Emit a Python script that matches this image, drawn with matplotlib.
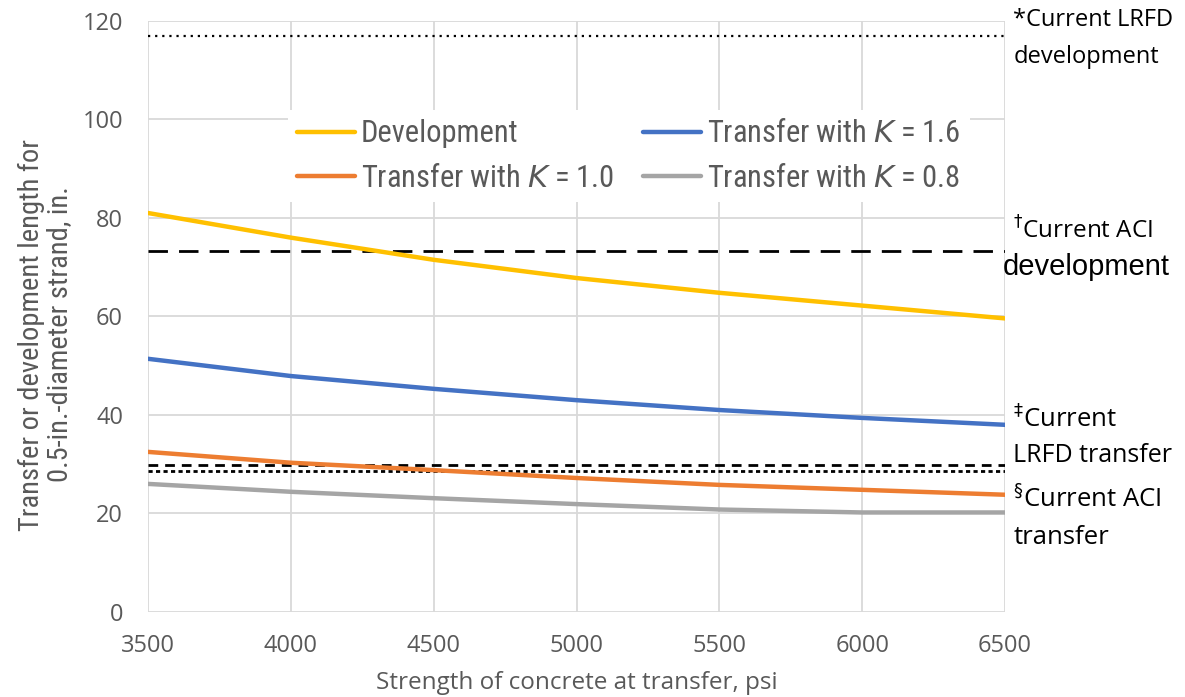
import matplotlib
matplotlib.use("Agg")
import matplotlib.pyplot as plt
from matplotlib import font_manager

names = {f.name for f in font_manager.fontManager.ttflist}
narrow = "Liberation Sans Narrow" if "Liberation Sans Narrow" in names else "Roboto Condensed" if "Roboto Condensed" in names else "Liberation Sans"
calib = "Open Sans" if "Open Sans" in names else "DejaVu Sans"
arial = "Liberation Sans"

strength = [3500, 4000, 4500, 5000, 5500, 6000, 6500]
development = [81.0, 76.0, 71.5, 67.8, 64.8, 62.2, 59.6]
transfer_k16 = [51.4, 47.9, 45.3, 43.0, 41.0, 39.4, 38.0]
transfer_k10 = [32.5, 30.3, 28.8, 27.2, 25.8, 24.8, 23.8]
transfer_k08 = [26.0, 24.4, 23.1, 21.9, 20.8, 20.2, 20.2]

lrfd_dev = 117.0
aci_dev = 73.2
lrfd_transfer = 29.9
aci_transfer = 28.7

fig = plt.figure(figsize=(11.85, 6.97), dpi=100)
ax = fig.add_axes([0.1249, 0.122, 0.7232, 0.848])

h_dev, = ax.plot(strength, development, color="#FFC000", lw=3.2, label="Development", solid_capstyle="round", zorder=3)
h16, = ax.plot(strength, transfer_k16, color="#4472C4", lw=3.2, label="Transfer with $\\it{K}$ = 1.6", solid_capstyle="round", zorder=3)
h10, = ax.plot(strength, transfer_k10, color="#ED7D31", lw=3.2, label="Transfer with $\\it{K}$ = 1.0", solid_capstyle="round", zorder=3)
h08, = ax.plot(strength, transfer_k08, color="#A5A5A5", lw=3.2, label="Transfer with $\\it{K}$ = 0.8", solid_capstyle="round", zorder=3)

ax.axhline(lrfd_dev, color="black", lw=1.6, ls=(0, (1, 2.2)), zorder=2)
ax.axhline(aci_dev, color="black", lw=2.0, ls=(0, (7, 4)), zorder=2)
ax.axhline(lrfd_transfer, color="black", lw=2.0, ls=(0, (3.5, 2.5)), zorder=2)
ax.axhline(aci_transfer, color="black", lw=2.0, ls=(0, (1.5, 1.2)), zorder=2)

ax.set_xlim(3500, 6500)
ax.set_ylim(0, 120)
ax.set_xticks(range(3500, 6501, 500))
ax.set_yticks(range(0, 121, 20))
ax.grid(True, color="#D9D9D9", lw=1.3, zorder=0)
ax.set_axisbelow(True)
for s in ax.spines.values():
    s.set_visible(False)
ax.tick_params(length=0, labelsize=17, labelcolor="#595959")
ax.tick_params(axis="x", pad=16)
ax.tick_params(axis="y", pad=18)
for lab in ax.get_xticklabels() + ax.get_yticklabels():
    lab.set_family(calib)

ax.set_xlabel("Strength of concrete at transfer, psi", fontsize=17.5, color="#595959",
              family=calib, labelpad=9)
fig.text(0.038, 0.52, "Transfer or development length for\n0.5-in.-diameter strand, in.",
         rotation=90, ha="center", va="center", fontsize=20.5, color="#595959",
         family=narrow, linespacing=1.05)

leg = ax.legend([h_dev, h10, h16, h08],
                [h_dev.get_label(), h10.get_label(), h16.get_label(), h08.get_label()],
                ncol=2, loc="upper left", bbox_to_anchor=(0.145, 0.875),
                frameon=True, fancybox=False, edgecolor="none", facecolor="white",
                framealpha=1, prop={"family": narrow, "size": 22},
                handlelength=1.9, handletextpad=0.2, columnspacing=0.95,
                labelspacing=0.52, borderpad=0.3)
for t in leg.get_texts():
    t.set_color("#595959")
leg.set_zorder(4)

tk = dict(fontsize=17, color="black", family=calib, ha="left", va="center")
x0 = 0.855
def yf(p):
    return 1 - p / 697
fig.text(x0, yf(20), "*Current LRFD", **tk)
fig.text(x0, yf(57), "development", **tk)
fig.text(x0, yf(231), "$^{\\dagger}$Current ACI", **{**tk, "fontsize": 17.5})
fig.text(0.846, yf(267), "development", **{**tk, "fontsize": 21, "family": arial})
fig.text(x0, yf(419), "$^{\\ddagger}$Current", **{**tk, "fontsize": 18.5})
fig.text(x0, yf(456), "LRFD transfer", **{**tk, "fontsize": 18})
fig.text(x0, yf(499), "$^{\\S}$Current ACI", **{**tk, "fontsize": 18.5})
fig.text(x0, yf(537), "transfer", **{**tk, "fontsize": 18.5})

fig.savefig("out.png", dpi=100, facecolor="white")
